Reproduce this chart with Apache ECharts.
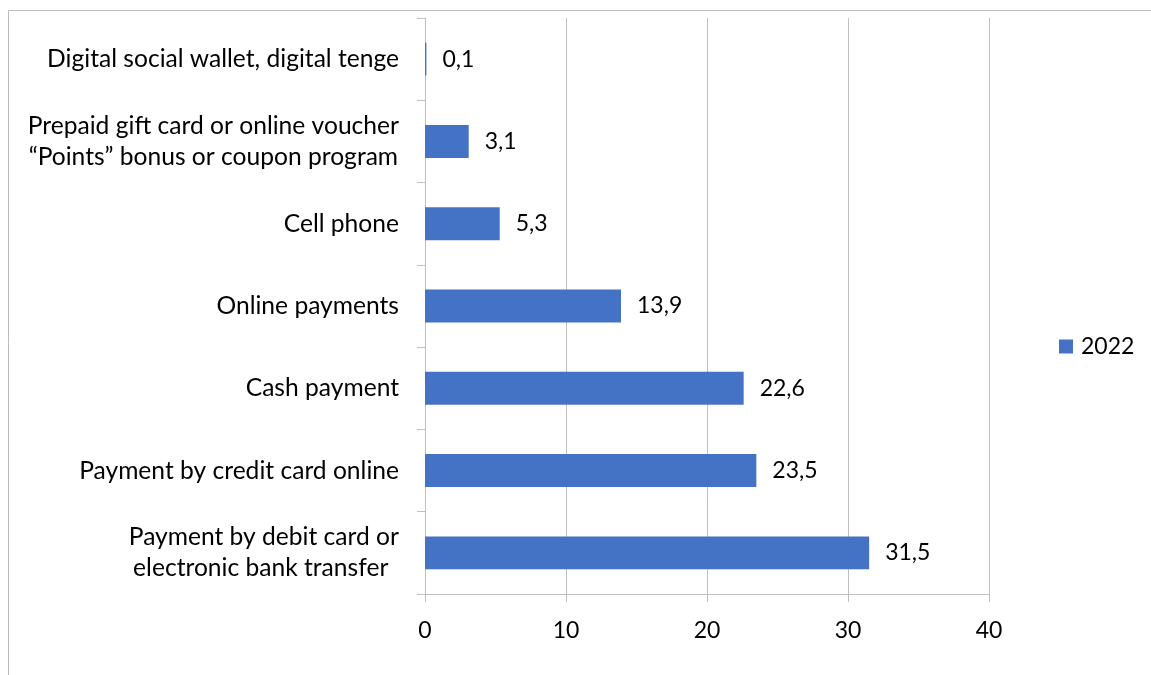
<!DOCTYPE html>
<html><head><meta charset="utf-8">
<script src="https://cdn.jsdelivr.net/npm/echarts@6/dist/echarts.min.js"></script>
<style>html,body{margin:0;padding:0;background:#fff}#c{width:1151px;height:675px}</style>
</head><body><div id="c"></div>
<script>
const categories = [
  "Payment by debit card or\nelectronic bank transfer ",
  "Payment by credit card online",
  "Cash payment",
  "Online payments",
  "Cell phone",
  "Prepaid gift card or online voucher\n\u201cPoints\u201d bonus or coupon program",
  "Digital social wallet, digital tenge"
];
const values2022 = [31.5, 23.5, 22.6, 13.9, 5.3, 3.1, 0.1];
const seriesName = "2022";
const xTicks = [0, 10, 20, 30, 40];

const FONT = 'Lato';
const chart = echarts.init(document.getElementById('c'));
chart.setOption({
  animation: false,
  textStyle: { fontFamily: FONT },
  graphic: [{
    type: 'rect', silent: true,
    shape: { x: 8.5, y: 10.5, width: 1300, height: 800 },
    style: { fill: 'none', stroke: '#bcbcbc', lineWidth: 1 }
  }],
  legend: {
    data: [seriesName], left: 1059, top: 335, padding: 0,
    itemWidth: 14, itemHeight: 14, itemGap: 10,
    textStyle: { fontSize: 23, lineHeight: 23, color: '#000', fontFamily: FONT, padding: [0,0,0,3] },
    icon: 'rect'
  },
  grid: { left: 425, right: 162, top: 18, bottom: 81, containLabel: false },
  xAxis: {
    type: 'value', min: xTicks[0], max: xTicks[xTicks.length-1], interval: 10,
    axisLine: { show: true, lineStyle: { color: '#bfbfbf' } },
    axisTick: { show: true, length: 8, lineStyle: { color: '#bfbfbf' } },
    splitLine: { show: true, lineStyle: { color: '#bfbfbf' } },
    axisLabel: { fontSize: 23, color: '#000', margin: 25, fontFamily: FONT }
  },
  yAxis: {
    type: 'category', data: categories,
    axisLine: { show: true, lineStyle: { color: '#bfbfbf' } },
    axisTick: { show: true, length: 8, alignWithLabel: false, lineStyle: { color: '#bfbfbf' } },
    axisLabel: {
      fontSize: 24.6, color: '#000', margin: 26, fontFamily: FONT, lineHeight: 31,
      formatter: function (v) {
        return v.split('\n').map(function (l) { return '{c|' + l + '}'; }).join('\n');
      },
      rich: { c: { align: 'center', fontSize: 24.6, lineHeight: 31, color: '#000', fontFamily: FONT } }
    }
  },
  series: [{
    name: seriesName, type: 'bar', data: values2022,
    barCategoryGap: '60%',
    itemStyle: { color: '#4472C4' },
    label: {
      show: true, position: 'right', distance: 16,
      fontSize: 23, color: '#000', fontFamily: FONT,
      formatter: function (p) { return String(p.value).replace('.', ','); }
    }
  }]
});
</script></body></html>
